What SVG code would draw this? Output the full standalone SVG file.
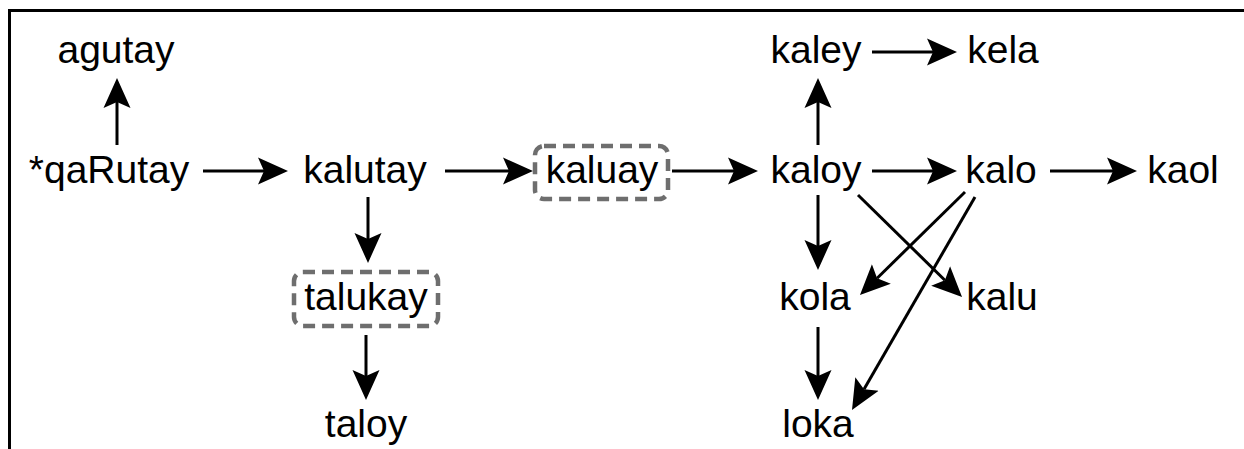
<svg xmlns="http://www.w3.org/2000/svg" width="1244" height="449" viewBox="0 0 1244 449">
  <style>
    .frame { fill: none; stroke: #000; stroke-width: 3; }
    .lbl { font-family: "Liberation Sans", Arial, Helvetica, sans-serif; font-size: 39px; fill: #000; text-anchor: middle; }
    .hl { fill: none; stroke: #6e6e6e; stroke-width: 4.5; stroke-dasharray: 12 7; }
    .edge { fill: none; stroke: #000; stroke-width: 3; marker-end: url(#head); }
  </style>
  <defs>
    <marker id="head" markerUnits="userSpaceOnUse" markerWidth="30" markerHeight="30" viewBox="0 -15 30 30" refX="6" refY="0" orient="auto">
      <path d="M0,-13.5 L30,0 L0,13.5 L6,0 Z" fill="#000"/>
    </marker>
  </defs>

  <rect width="1244" height="449" fill="#fff"/>
  <path class="frame" d="M9.5,449 V10.5 H1244"/>

  <g id="connectors">
    <path class="edge" d="M117,145 V102"/>
    <path class="edge" d="M203,171 H264"/>
    <path class="edge" d="M445,171 H509"/>
    <path class="edge" d="M672,171 H734"/>
    <path class="edge" d="M872,171 H933"/>
    <path class="edge" d="M1050,171 H1113"/>
    <path class="edge" d="M872,52 H933"/>
    <path class="edge" d="M818,145 V102"/>
    <path class="edge" d="M368,197 V239"/>
    <path class="edge" d="M366,335 V376"/>
    <path class="edge" d="M818,195 V246"/>
    <path class="edge" d="M818,327 V376"/>
    <path class="edge" d="M858,195 L944.9,280.2"/>
    <path class="edge" d="M965,192 L877.1,278.2"/>
    <path class="edge" d="M975,197 L864,389.2"/>
  </g>

  <g id="agutay"><text class="lbl" x="116" y="63">agutay</text></g>
  <g id="qaRutay"><text class="lbl" x="109" y="183">*qaRutay</text></g>
  <g id="kalutay"><text class="lbl" x="365" y="183">kalutay</text></g>
  <g id="kaluay">
    <rect class="hl" x="535" y="146" width="133" height="53" rx="9"/>
    <text class="lbl" x="602" y="183">kaluay</text>
  </g>
  <g id="kaloy"><text class="lbl" x="816" y="183">kaloy</text></g>
  <g id="kalo"><text class="lbl" x="1001" y="183">kalo</text></g>
  <g id="kaol"><text class="lbl" x="1183" y="183">kaol</text></g>
  <g id="kaley"><text class="lbl" x="816" y="63">kaley</text></g>
  <g id="kela"><text class="lbl" x="1003" y="63">kela</text></g>
  <g id="talukay">
    <rect class="hl" x="294" y="272" width="144" height="54" rx="9"/>
    <text class="lbl" x="366" y="310">talukay</text>
  </g>
  <g id="taloy"><text class="lbl" x="366" y="437">taloy</text></g>
  <g id="kola"><text class="lbl" x="815" y="310">kola</text></g>
  <g id="kalu"><text class="lbl" x="1002" y="310">kalu</text></g>
  <g id="loka"><text class="lbl" x="818" y="437">loka</text></g>
</svg>
